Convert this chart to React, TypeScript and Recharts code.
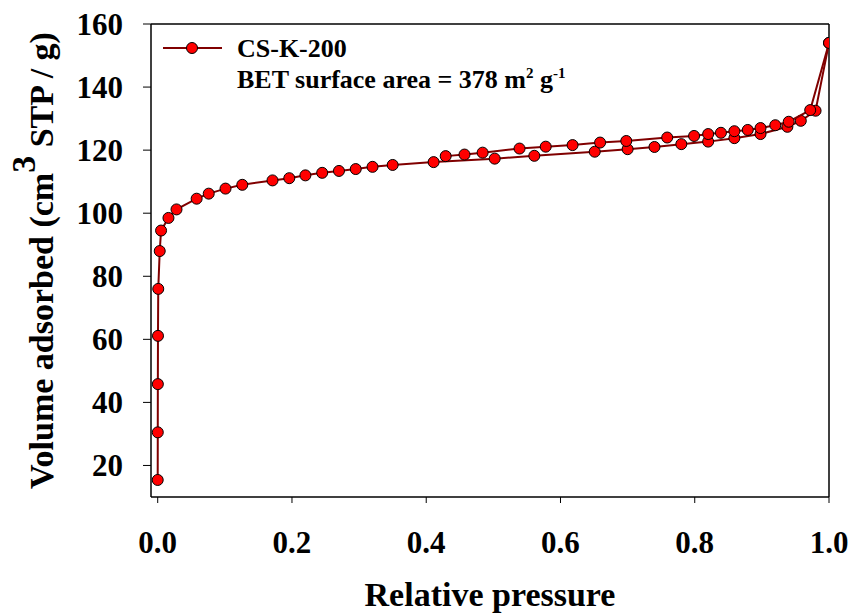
import React from 'react';
import { ScatterChart, Scatter, XAxis, YAxis, ReferenceLine } from 'recharts';

const adsorptionP = [0.0, 0.0001, 0.0002, 0.0004, 0.0008, 0.003, 0.005, 0.016, 0.028, 0.058, 0.076, 0.101, 0.126, 0.171, 0.196, 0.220, 0.245, 0.270, 0.295, 0.320, 0.350, 0.411, 0.502, 0.561, 0.651, 0.700, 0.740, 0.780, 0.820, 0.859, 0.898, 0.938, 0.958, 0.980, 1.0];
const adsorptionV = [15.4, 30.5, 45.8, 61.1, 76.0, 88.0, 94.5, 98.5, 101.2, 104.6, 106.2, 107.8, 109.0, 110.4, 111.1, 112.0, 112.8, 113.4, 114.0, 114.7, 115.3, 116.2, 117.3, 118.2, 119.5, 120.3, 121.0, 121.9, 122.7, 123.8, 125.1, 127.4, 129.3, 132.5, 154.0];

const desorptionP = [1.0, 0.972, 0.940, 0.920, 0.898, 0.879, 0.859, 0.839, 0.820, 0.799, 0.759, 0.698, 0.659, 0.618, 0.578, 0.539, 0.484, 0.457, 0.429];
const desorptionV = [154.0, 132.7, 129.0, 127.9, 127.0, 126.4, 126.0, 125.5, 125.1, 124.5, 124.0, 122.9, 122.4, 121.6, 121.1, 120.5, 119.2, 118.6, 118.1];

const xTicks = [0.0, 0.2, 0.4, 0.6, 0.8, 1.0];
const yTicks = [20, 40, 60, 80, 100, 120, 140, 160];

const seriesName = 'CS-K-200';

const adsorption = adsorptionP.map((p, i) => ({ p, v: adsorptionV[i] }));
const desorption = desorptionP.map((p, i) => ({ p, v: desorptionV[i] }));

const FONT = '"Liberation Serif", "Times New Roman", serif';
const LINE = '#800000';

const Dot = (props: any) => (
  <circle cx={props.cx} cy={props.cy} r={5.5} fill="#FF0000" stroke="#000" strokeWidth={1} />
);

const tickStyle = { fill: '#000', fontFamily: FONT, fontWeight: 'bold', fontSize: 31 } as any;

const XLabel = (props: any) => {
  const vb = props.viewBox || {};
  return (
    <text x={vb.x + vb.width / 2} y={606} textAnchor="middle" fontFamily={FONT} fontWeight="bold" fontSize={34} fill="#000">
      Relative pressure
    </text>
  );
};

const YLabel = (props: any) => {
  const vb = props.viewBox || {};
  const cx = 53;
  const cy = vb.y + vb.height / 2;
  return (
    <text x={cx} y={cy} transform={`rotate(-90, ${cx}, ${cy})`} textAnchor="middle" fontFamily={FONT} fontWeight="bold" fontSize={34} fill="#000">
      Volume adsorbed (cm<tspan dy={-18}>3</tspan><tspan dy={18}> STP / g)</tspan>
    </text>
  );
};

const LegendBox = () => (
  <div style={{ position: 'absolute', left: 0, top: 0, width: 600, height: 100, fontFamily: FONT, fontWeight: 'bold', fontSize: 26, color: '#000', pointerEvents: 'none' }}>
    <svg width={64} height={16} style={{ position: 'absolute', left: 161, top: 40 }}>
      <line x1={2} y1={8} x2={61} y2={8} stroke={LINE} strokeWidth={2} />
      <circle cx={31} cy={8} r={5.5} fill="#FF0000" stroke="#000" strokeWidth={1} />
    </svg>
    <div style={{ position: 'absolute', left: 237, top: 36, lineHeight: '26px', whiteSpace: 'nowrap' }}>{seriesName}</div>
    <div style={{ position: 'absolute', left: 237, top: 67, lineHeight: '26px', whiteSpace: 'nowrap' }}>
      BET surface area = 378 m<span style={{ fontSize: 15, position: 'relative', top: -10 }}>2</span> g<span style={{ fontSize: 15, position: 'relative', top: -10 }}>-1</span>
    </div>
  </div>
);

export default function App() {
  return (
    <div style={{ position: 'absolute', left: 0, top: 0, width: 855, height: 616, background: '#fff' }}>
      <ScatterChart width={855} height={616} margin={{ top: 24, right: 26, bottom: 59, left: 0 }}>
        <XAxis
          type="number"
          dataKey="p"
          domain={[-0.01, 1.0]}
          ticks={xTicks}
          tickFormatter={(v: number) => v.toFixed(1)}
          height={60}
          tickSize={6}
          tickMargin={28}
          tick={tickStyle}
          stroke="#000"
          axisLine={{ stroke: '#000', strokeWidth: 1.5 }}
          tickLine={{ stroke: '#000', strokeWidth: 1 }}
          allowDataOverflow
          label={<XLabel />}
        />
        <YAxis
          type="number"
          dataKey="v"
          domain={[10, 160]}
          ticks={yTicks}
          width={151}
          tickSize={8}
          tickMargin={20}
          tick={tickStyle}
          stroke="#000"
          axisLine={{ stroke: '#000', strokeWidth: 1.5 }}
          tickLine={{ stroke: '#000', strokeWidth: 1 }}
          allowDataOverflow
          label={<YLabel />}
        />
        <ReferenceLine y={160} stroke="#000" strokeWidth={1.5} />
        <ReferenceLine x={1.0} stroke="#000" strokeWidth={1.5} />
        <Scatter
          name="adsorption"
          data={adsorption}
          line={{ stroke: LINE, strokeWidth: 2 }}
          lineType="joint"
          shape={Dot}
          isAnimationActive={false}
        />
        <Scatter
          name="desorption"
          data={desorption}
          line={{ stroke: LINE, strokeWidth: 2 }}
          lineType="joint"
          shape={Dot}
          isAnimationActive={false}
        />
      </ScatterChart>
      <LegendBox />
    </div>
  );
}
